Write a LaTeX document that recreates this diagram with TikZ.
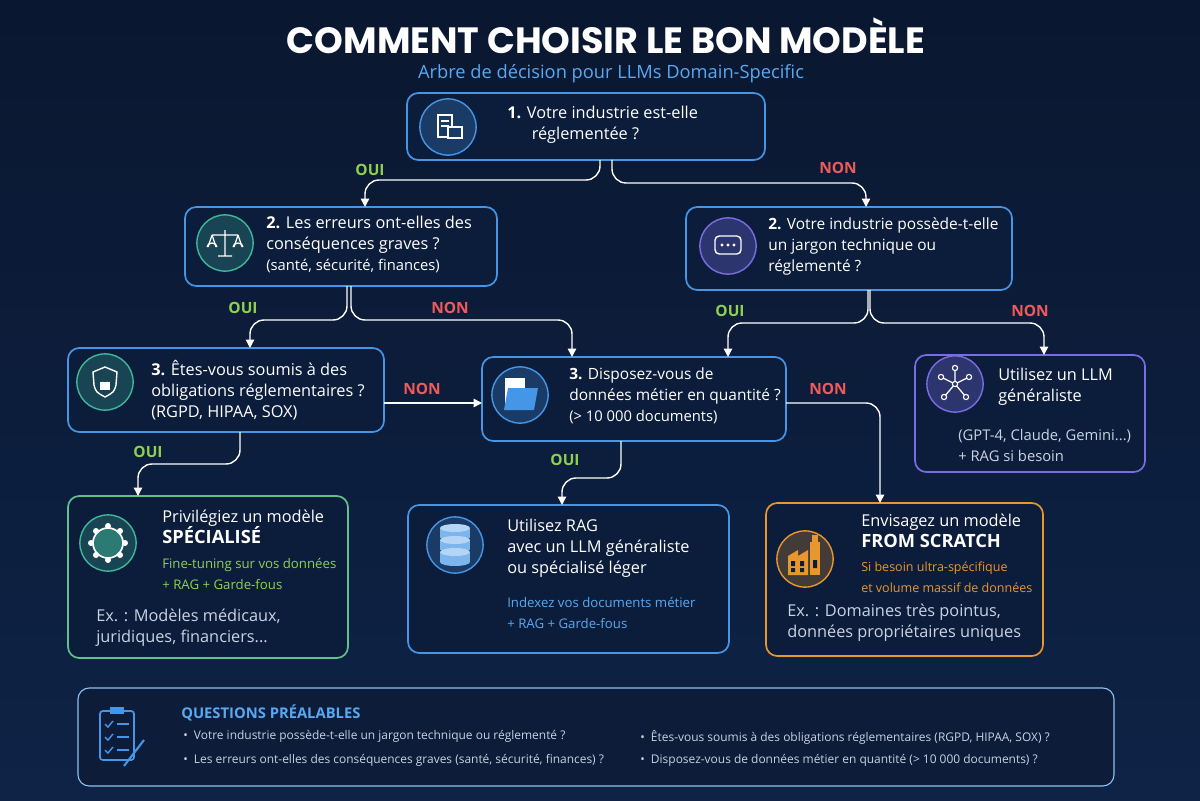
\documentclass[tikz,border=0pt]{standalone}
\usepackage{fontspec}
\setmainfont{Open Sans}
\newfontfamily\titlefont{Poppins}
\usetikzlibrary{arrows.meta,calc}
\definecolor{bgA}{HTML}{0A1730}
\definecolor{bgB}{HTML}{0E2346}
\definecolor{boxfill}{HTML}{0C1D3B}
\definecolor{bblue}{HTML}{4596E6}
\definecolor{bgreen}{HTML}{62C08A}
\definecolor{bpurple}{HTML}{7B6CE6}
\definecolor{borange}{HTML}{E8962E}
\definecolor{oui}{HTML}{8FD14F}
\definecolor{non}{HTML}{F05A5A}
\definecolor{subt}{HTML}{5AA8F0}
\definecolor{greytxt}{HTML}{C9D3E3}
\definecolor{teal}{HTML}{3FB89A}
\tikzset{
  box/.style={draw=bblue, line width=1.2pt, rounded corners=8pt, fill=boxfill},
  conn/.style={draw=white, line width=1pt, rounded corners=10pt, -{Triangle[length=6pt,width=6pt]}},
  lbl/.style={inner sep=0pt, anchor=north west, align=left, text=white, font=\fontsize{11.6}{15}\selectfont},
  small/.style={inner sep=0pt, anchor=north west, align=left, font=\fontsize{9.4}{15}\selectfont},
  ouil/.style={text=oui, font=\bfseries\fontsize{11}{13}\selectfont, inner sep=0pt},
  nonl/.style={text=non, font=\bfseries\fontsize{11}{13}\selectfont, inner sep=0pt},
  icon/.style={circle, minimum size=40pt, inner sep=0pt, line width=1pt},
}
\begin{document}
\begin{tikzpicture}[x=0.025cm,y=-0.025cm]
\useasboundingbox (0,0) rectangle (1200,800);
\shade[top color=bgA, bottom color=bgB] (0,0) rectangle (1200,800);
% title
\node[inner sep=0pt, text=white] (title) at (606,36) {\titlefont\bfseries\fontsize{26}{28}\selectfont COMMENT CHOISIR LE BON MODÈLE};
\node[inner sep=0pt, text=subt] (sub) at (611,74) {\fontsize{13}{15}\selectfont Arbre de décision pour LLMs Domain-Specific};

% boxes
\draw[box] (407,93) rectangle (765,160);
\draw[box] (185,207) rectangle (497,286);
\draw[box] (686,207) rectangle (1012,290);
\draw[box] (68,348) rectangle (384,432);
\draw[box] (482,357) rectangle (786,441);
\draw[box, draw=bpurple] (915,355) rectangle (1145,472);
\draw[box, draw=bgreen] (68,496) rectangle (348,658);
\draw[box] (408,505) rectangle (729,653);
\draw[box, draw=borange] (766,503) rectangle (1043,656);
\draw[box, draw=bblue!60, line width=0.8pt, fill=boxfill!85!bgA] (78,688) rectangle (1114,786);

% icons
\node[icon, draw=bblue, fill=bblue!25!boxfill] (i1) at (448,127) {};
\draw[white, line width=0.9pt] (438,115) rectangle (452,137) (441,121)--(449,121) (441,126)--(449,126);
\draw[white, line width=0.9pt, fill=bblue!25!boxfill] (448,127) rectangle (462,138);
\node[icon, draw=teal, fill=teal!25!boxfill] (i2) at (225,243) {};
\draw[white, line width=0.9pt] (225,230)--(225,256) (218,256)--(232,256) (212,235)--(238,235) (212,235)--(208,247) (212,235)--(216,247) (238,235)--(234,247) (238,235)--(242,247);
\draw[white, line width=0.9pt] (207,247) arc (180:360:5 and 4) (233,247) arc (180:360:5 and 4);
\node[icon, draw=bpurple, fill=bpurple!30!boxfill] (i3) at (728,246) {};
\draw[white, line width=1pt, rounded corners=3pt] (715,236) rectangle (741,254);
\fill[white] (722,245) circle (1.6) (728,245) circle (1.6) (734,245) circle (1.6);
\node[icon, draw=teal, fill=teal!25!boxfill] (i4) at (105,382) {};
\draw[white, line width=1pt] (105,367) -- (117,372) -- (116,385) .. controls (114,392) .. (105,397) .. controls (96,392) .. (94,385) -- (93,372) -- cycle;
\fill[white] (100,382) rectangle (110,390);
\draw[white, line width=1pt] (102,382) arc (180:0:3);
\node[icon, draw=bblue, fill=bblue!25!boxfill] (i5) at (520,395) {};
\fill[white] (505,378) rectangle (525,408);
\fill[bblue] (508,388) -- (538,388) -- (534,410) -- (504,410) -- cycle;
\node[icon, draw=bpurple, fill=bpurple!30!boxfill] (i6) at (955,384) {};
\draw[white, line width=0.9pt] (955,384)--(955,368) (955,384)--(941,377) (955,384)--(969,377) (955,384)--(944,397) (955,384)--(966,397);
\foreach \p in {(955,368),(941,377),(969,377),(944,397),(966,397),(955,384)} \filldraw[draw=white, fill=bpurple!30!boxfill, line width=0.8pt] \p circle (2.6);
\node[icon, draw=teal, fill=teal!25!boxfill] (i7) at (108,543) {};
\draw[white, line width=1.2pt, fill=teal!60!boxfill] (108,543) circle (15);
\foreach \a in {0,45,...,315} \fill[white] ($(108,543)+(\a:17)$) circle (3);
\fill[teal!60!boxfill] (108,543) circle (8);
\node[icon, draw=bblue, fill=bblue!25!boxfill] (i8) at (455,545) {};
\foreach \yy in {528,540,552} {\fill[bblue!70!white] (440,\yy) rectangle (470,\yy+10); \fill[bblue!40!white] (455,\yy) ellipse (15 and 4);}
\fill[bblue!70!white] (455,562) ellipse (15 and 4);
\node[icon, draw=borange, fill=borange!25!boxfill] (i9) at (805,559) {};
\fill[borange] (788,575) -- (788,556) -- (798,550) -- (798,556) -- (808,550) -- (808,575) -- cycle;
\fill[borange] (810,575) rectangle (820,542);
\fill[borange] (812,542) rectangle (818,535);
\fill[boxfill] (791,561) rectangle (795,566) (800,561) rectangle (804,566) (791,568) rectangle (795,572) (800,568) rectangle (804,572) (813,560) rectangle (817,568);

% texts
\node[lbl] (t1) at (507,106) {\textbf{1.} Votre industrie est-elle\\\hspace{1.5em}réglementée ?};
\node[lbl] (t2) at (266,216) {\textbf{2.} Les erreurs ont-elles des\\conséquences graves ?\\{\fontsize{10.5}{14}\selectfont (santé, sécurité, finances)}};
\node[lbl, font=\fontsize{11}{15}\selectfont] (t3) at (768,217) {\textbf{2.} Votre industrie possède-t-elle\\un jargon technique ou\\réglementé ?};
\node[lbl] (t4) at (151,360) {\textbf{3.} Êtes-vous soumis à des\\obligations réglementaires ?\\(RGPD, HIPAA, SOX)};
\node[lbl, font=\fontsize{11}{15}\selectfont] (t5) at (569,367) {\textbf{3.} Disposez-vous de\\données métier en quantité ?\\{\fontsize{10.5}{14}\selectfont (> 10 000 documents)}};
\node[lbl] (t6) at (998,368) {Utilisez un LLM\\généraliste};
\node[small, text=greytxt, font=\fontsize{10.5}{15}\selectfont] (t6b) at (958,429) {(GPT-4, Claude, Gemini...)\\+ RAG si besoin};
\node[lbl] (t7) at (162,510) {Privilégiez un modèle\\\textbf{\fontsize{13}{17}\selectfont SPÉCIALISÉ}};
\node[small, text=oui] (t7b) at (162,558) {Fine-tuning sur vos données\\+ RAG + Garde-fous};
\node[lbl, text=greytxt] (t7c) at (96,609) {Ex. : Modèles médicaux,\\juridiques, financiers...};
\node[lbl] (t8) at (507,519) {Utilisez RAG\\avec un LLM généraliste\\ou spécialisé léger};
\node[small, text=subt] (t8b) at (507,597) {Indexez vos documents métier\\+ RAG + Garde-fous};
\node[lbl] (t9) at (861,514) {Envisagez un modèle\\\textbf{\fontsize{13}{17}\selectfont FROM SCRATCH}};
\node[small, text=borange, font=\fontsize{8.9}{15}\selectfont] (t9b) at (861,562) {Si besoin ultra-spécifique\\et volume massif de données};
\node[lbl, text=greytxt] (t9c) at (787,604) {Ex. : Domaines très pointus,\\données propriétaires uniques};

% connectors
\coordinate (a1) at (600,160); \coordinate (a1e) at (365,207);
\draw[conn] (a1) -- (600,180) -- (365,180) -- (a1e);
\coordinate (b1) at (612,160); \coordinate (b1e) at (866,207);
\draw[conn] (b1) -- (612,183) -- (866,183) -- (b1e);
\node[ouil] (l1) at (370,170) {OUI};
\node[nonl] (l2) at (838,168) {NON};
\coordinate (c1) at (347,286); \coordinate (c1e) at (250,348);
\draw[conn] (c1) -- (347,320) -- (250,320) -- (c1e);
\coordinate (d1) at (351,286); \coordinate (d1e) at (572,357);
\draw[conn] (d1) -- (351,320) -- (572,320) -- (d1e);
\node[ouil] (l3) at (243,308) {OUI};
\node[nonl] (l4) at (450,308) {NON};
\coordinate (e1) at (868,290); \coordinate (e1e) at (728,357);
\draw[conn] (e1) -- (868,323) -- (728,323) -- (e1e);
\coordinate (f1) at (870,290); \coordinate (f1e) at (1044,355);
\draw[conn] (f1) -- (870,323) -- (1044,323) -- (f1e);
\node[ouil] (l5) at (730,311) {OUI};
\node[nonl] (l6) at (1030,311) {NON};
\coordinate (g1) at (384,403); \coordinate (g1e) at (482,403);
\draw[conn] (g1) -- (g1e);
\node[nonl] (l7) at (422,389) {NON};
\coordinate (h1) at (240,432); \coordinate (h1e) at (138,496);
\draw[conn] (h1) -- (240,464) -- (138,464) -- (h1e);
\node[ouil] (l8) at (148,452) {OUI};
\coordinate (k1) at (621,441); \coordinate (k1e) at (562,505);
\draw[conn] (k1) -- (621,478) -- (562,478) -- (k1e);
\node[ouil] (l9) at (565,460) {OUI};
\coordinate (m1) at (786,403); \coordinate (m1e) at (880,503);
\draw[conn] (m1) -- (880,403) -- (m1e);
\node[nonl] (l10) at (828,389) {NON};

% bottom panel
\draw[bblue, line width=1.2pt, rounded corners=2pt] (100,711) rectangle (134,760);
\fill[bblue] (110,707) rectangle (124,714);
\foreach \yy in {724,737,750} {\draw[bblue, line width=1pt] (105,\yy)--(108,\yy+3)--(113,\yy-3); \draw[bblue, line width=1pt] (117,\yy)--(129,\yy);}
\draw[bblue, line width=1.5pt] (124,766)--(144,740);
\node[small, text=subt, font=\bfseries\fontsize{10.5}{12}\selectfont] (bt) at (181,704) {QUESTIONS PRÉALABLES};
\node[small, text=greytxt, font=\fontsize{8.5}{10}\selectfont] (bq1) at (183,730) {\textbullet\ \ Votre industrie possède-t-elle un jargon technique ou réglementé ?};
\node[small, text=greytxt, font=\fontsize{8.5}{10}\selectfont] (bq2) at (183,754) {\textbullet\ \ Les erreurs ont-elles des conséquences graves (santé, sécurité, finances) ?};
\node[small, text=greytxt, font=\fontsize{8.5}{10}\selectfont] (bq3) at (640,730) {\textbullet\ \ Êtes-vous soumis à des obligations réglementaires (RGPD, HIPAA, SOX) ?};
\node[small, text=greytxt, font=\fontsize{8.5}{10}\selectfont] (bq4) at (640,754) {\textbullet\ \ Disposez-vous de données métier en quantité (> 10 000 documents) ?};
\end{tikzpicture}
\end{document}
